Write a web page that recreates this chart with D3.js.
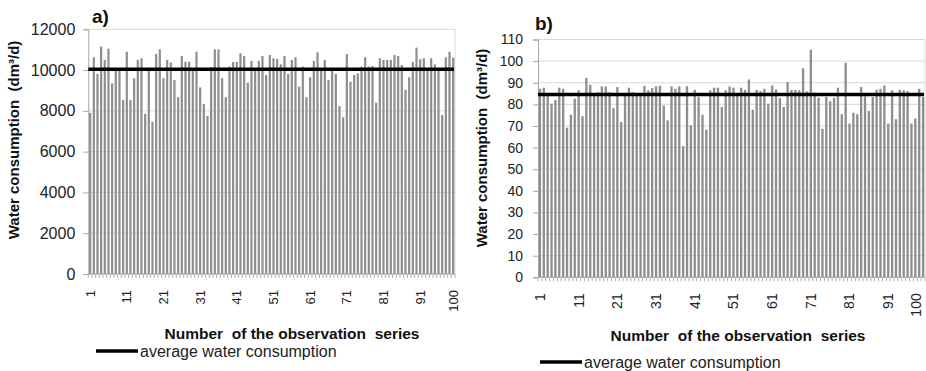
<!DOCTYPE html>
<html>
<head>
<meta charset="utf-8">
<script src="https://cdn.jsdelivr.net/npm/d3@7/dist/d3.min.js"></script>
<style>
  html, body { margin: 0; padding: 0; background: #fff; }
  svg { display: block; font-family: "Liberation Sans", Arial, sans-serif; }
  .pre { white-space: pre; }
</style>
</head>
<body>
<svg id="chart" width="926" height="371"></svg>
<script>
// ---------- DATA ----------
const seriesA = [
  7900, 10630, 9810, 11150, 10500, 11050, 9350, 9970, 9970, 8530,
  10900, 8530, 9600, 10500, 10580, 7850, 10000, 7470, 10790, 11020,
  9600, 10500, 10370, 9520, 8670, 10690, 10410, 10410, 9970, 10900,
  9150, 8340, 7750, 10150, 11020, 11020, 9600, 8670, 10170, 10400,
  10400, 10820, 10690, 9380, 10450, 10000, 10450, 10690, 9760, 10740,
  10580, 10550, 10280, 10690, 9810, 10500, 10630, 9190, 10170, 8670,
  9650, 10450, 10870, 10090, 10500, 9520, 9970, 9810, 8240, 7680,
  10790, 9430, 9760, 9840, 10170, 10630, 10170, 10200, 8400, 10580,
  10500, 10500, 10500, 10740, 10690, 10250, 9030, 9650, 10400, 11100,
  10530, 10580, 10000, 10580, 10280, 10000, 7800, 10630, 10900, 10610
];
const seriesB = [
  87.2, 87.7, 84.5, 80.3, 82.0, 87.7, 87.2, 69.2, 75.2, 82.6,
  86.5, 74.5, 92.3, 89.1, 84.0, 85.7, 88.3, 88.3, 85.7, 78.3,
  88.0, 71.8, 85.2, 87.7, 85.7, 84.9, 85.2, 88.6, 86.5, 87.5,
  88.3, 88.6, 79.5, 72.6, 88.3, 87.2, 88.3, 60.6, 88.4, 70.3,
  86.7, 83.4, 75.2, 68.3, 86.5, 87.7, 87.7, 78.8, 86.5, 88.3,
  87.7, 84.1, 87.7, 86.7, 91.5, 77.5, 86.7, 86.1, 87.2, 80.3,
  88.7, 86.9, 82.9, 78.8, 90.3, 86.7, 86.7, 86.5, 96.7, 86.0,
  105.2, 85.4, 83.1, 68.7, 83.4, 81.4, 83.1, 87.7, 75.4, 99.2,
  71.1, 76.1, 75.4, 88.0, 83.7, 76.9, 83.4, 86.7, 87.2, 88.7,
  71.1, 86.5, 73.1, 86.7, 86.5, 86.1, 71.1, 73.4, 87.2, 83.4
];
const averageA = 10040;
const averageB = 84.6;
const observations = d3.range(1, 101);
const xTickLabels = [1, 11, 21, 31, 41, 51, 61, 71, 81, 91, 100];
const yTicksA = [0, 2000, 4000, 6000, 8000, 10000, 12000];
const yTicksB = [0, 10, 20, 30, 40, 50, 60, 70, 80, 90, 100, 110];
const panelLabels = ["a)", "b)"];
const xTitle = "Number  of the observation  series";
const yTitle = "Water consumption  (dm\u00b3/d)";
const legendText = "average water consumption";

// ---------- LAYOUT ----------
const panels = [
  { values: seriesA, avg: averageA, yTicks: yTicksA, yMax: 12000, label: panelLabels[0],
    left: 88.3, right: 455, top: 29.3, bottom: 274,
    yFont: 16, yPad: 8, xFont: 13, labelX: 92, labelY: 23, lastShift: 0,
    yTitleX: 19, yTitleY: 140, xTitleX: 292, xTitleY: 339,
    legY: 351, legX1: 96, legX2: 138 },
  { values: seriesB, avg: averageB, yTicks: yTicksB, yMax: 110, label: panelLabels[1],
    left: 538, right: 925, top: 39.5, bottom: 277.3,
    yFont: 14, yPad: 10, xFont: 14, labelX: 535, labelY: 30, lastShift: -7,
    yTitleX: 487, yTitleY: 148, xTitleX: 738, xTitleY: 341,
    legY: 362, legX1: 540, legX2: 582 }
];

const svg = d3.select("#chart");

panels.forEach(p => {
  const g = svg.append("g");
  const x = d3.scaleBand().domain(observations).range([p.left, p.right]).paddingInner(0.4).paddingOuter(0.2);
  const y = d3.scaleLinear().domain([0, p.yMax]).range([p.bottom, p.top]);

  // gridlines
  g.append("g").selectAll("line").data(p.yTicks).join("line")
    .attr("x1", p.left).attr("x2", p.right)
    .attr("y1", d => y(d)).attr("y2", d => y(d))
    .attr("stroke", "#d9d9d9").attr("stroke-width", 1);
  // right border
  g.append("line").attr("x1", p.right).attr("x2", p.right)
    .attr("y1", p.top).attr("y2", p.bottom)
    .attr("stroke", "#d9d9d9").attr("stroke-width", 1);

  // bars
  g.append("g").selectAll("rect").data(p.values).join("rect")
    .attr("x", (d, i) => x(observations[i]))
    .attr("width", x.bandwidth())
    .attr("y", d => y(d))
    .attr("height", d => y(0) - y(d))
    .attr("fill", "#8e8e8e");

  // y axis
  const yAxis = d3.axisLeft(y).tickValues(p.yTicks).tickSize(5).tickPadding(p.yPad).tickFormat(d3.format("d"));
  const ya = g.append("g").attr("transform", `translate(${p.left},0)`).call(yAxis);
  ya.select(".domain").attr("stroke", "#a6a6a6");
  ya.selectAll(".tick line").attr("stroke", "#a6a6a6");
  ya.selectAll(".tick text").attr("fill", "#222").style("font-size", p.yFont + "px")
    .style("font-family", "'Liberation Sans', Arial, sans-serif");

  // x axis line + ticks at band boundaries
  g.append("line").attr("x1", p.left).attr("x2", p.right)
    .attr("y1", p.bottom).attr("y2", p.bottom)
    .attr("stroke", "#a6a6a6");
  g.append("g").selectAll("line").data(d3.range(0, 101)).join("line")
    .attr("x1", i => p.left + i * (p.right - p.left) / 100)
    .attr("x2", i => p.left + i * (p.right - p.left) / 100)
    .attr("y1", p.bottom).attr("y2", p.bottom + 4)
    .attr("stroke", "#b0b0b0").attr("stroke-width", 1);

  // x tick labels (rotated)
  g.append("g").selectAll("text").data(xTickLabels).join("text")
    .attr("transform", d => `translate(${x(d) + x.bandwidth() / 2 + (d === 100 ? p.lastShift : 0)},${p.bottom + 16}) rotate(-90)`)
    .attr("text-anchor", "end").attr("dy", "0.35em")
    .style("font-size", p.xFont + "px").attr("fill", "#222")
    .text(d => d);

  // average line
  g.append("line").attr("x1", p.left).attr("x2", p.right - 1)
    .attr("y1", y(p.avg)).attr("y2", y(p.avg))
    .attr("stroke", "#000").attr("stroke-width", 3.5);

  // panel label
  g.append("text").attr("x", p.labelX).attr("y", p.labelY)
    .style("font-size", "19px").style("font-weight", "bold").attr("fill", "#111")
    .text(p.label);

  // y title
  g.append("text").attr("class", "pre")
    .attr("transform", `translate(${p.yTitleX},${p.yTitleY}) rotate(-90)`)
    .attr("text-anchor", "middle")
    .style("font-size", "15px").style("font-weight", "bold").attr("fill", "#111")
    .text(yTitle);

  // x title
  g.append("text").attr("class", "pre").attr("x", p.xTitleX).attr("y", p.xTitleY)
    .attr("text-anchor", "middle")
    .style("font-size", "15.5px").style("font-weight", "bold").attr("fill", "#111")
    .text(xTitle);

  // legend
  g.append("line").attr("x1", p.legX1).attr("x2", p.legX2)
    .attr("y1", p.legY).attr("y2", p.legY)
    .attr("stroke", "#000").attr("stroke-width", 3.5);
  g.append("text").attr("x", p.legX2 + 2).attr("y", p.legY).attr("dy", "0.35em")
    .style("font-size", "16px").attr("fill", "#222")
    .text(legendText);
});
</script>
</body>
</html>
